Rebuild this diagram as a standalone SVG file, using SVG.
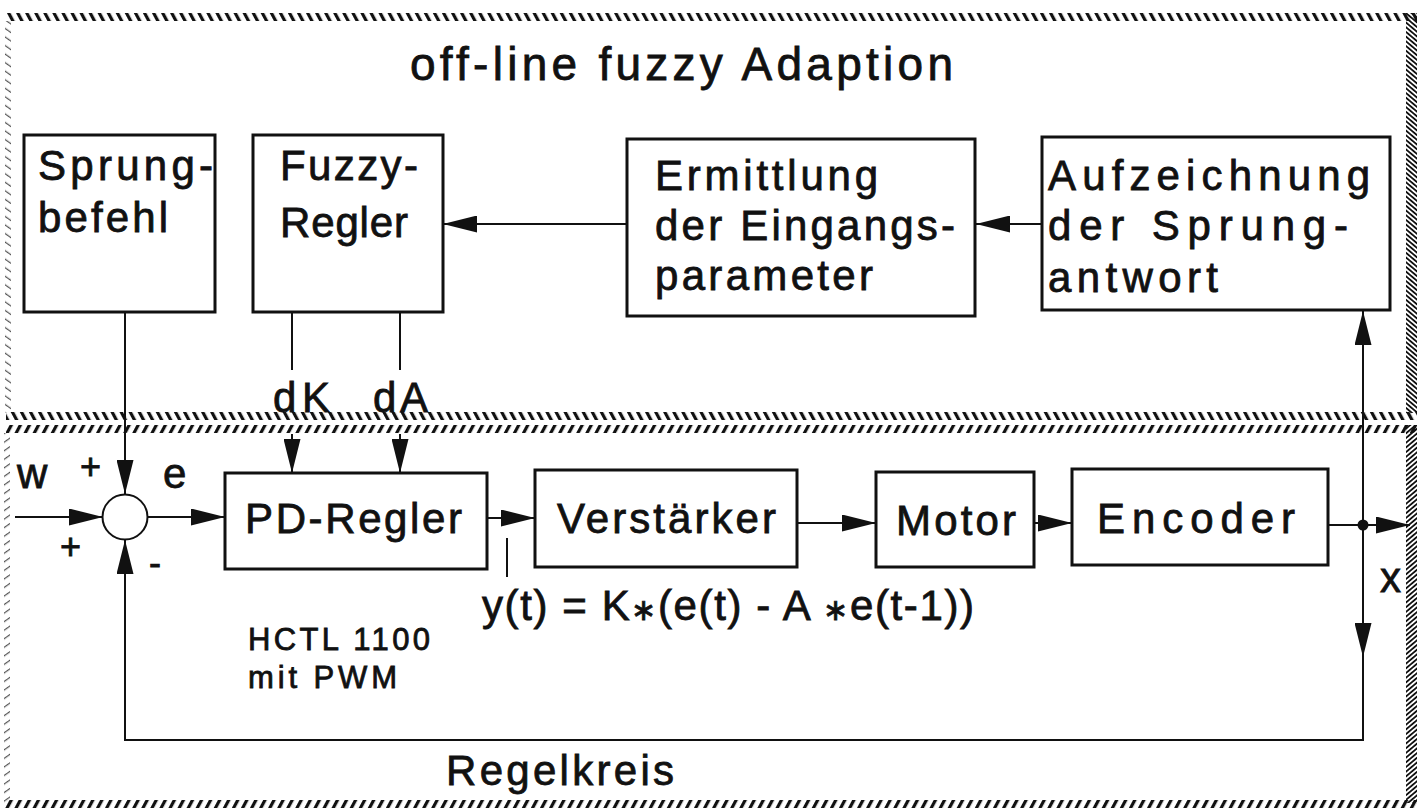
<svg xmlns="http://www.w3.org/2000/svg" width="1421" height="812" viewBox="0 0 1421 812">
<defs>
<style>
.t{font-family:"Liberation Sans",Arial,Helvetica,sans-serif;fill:#111;stroke:#111;stroke-width:0.8px;}
.b{font-size:42px;}
.s{font-size:31px;}
.st{font-size:30px;}
.box{fill:#fff;stroke:#111;stroke-width:3;}
.ln{fill:none;stroke:#111;stroke-width:2;}
.ar{fill:none;stroke:#111;stroke-width:2;marker-end:url(#ah);}
</style>
<marker id="ah" markerUnits="userSpaceOnUse" markerWidth="34" markerHeight="17" refX="34" refY="8.5" orient="auto">
<path d="M0,0 L34,8.5 L0,17 z" fill="#111"/>
</marker>
<pattern id="hB" width="8" height="10" patternUnits="userSpaceOnUse" patternTransform="rotate(-28)"><rect x="0" y="0" width="3.2" height="10" fill="#111"/></pattern>
<pattern id="hF" width="8" height="10" patternUnits="userSpaceOnUse" patternTransform="rotate(28)"><rect x="0" y="0" width="3.2" height="10" fill="#111"/></pattern>
<pattern id="vB" width="3.6" height="10" patternUnits="userSpaceOnUse" patternTransform="rotate(-50)"><rect x="0" y="0" width="1.8" height="10" fill="#111"/></pattern>
<pattern id="vF" width="3.6" height="10" patternUnits="userSpaceOnUse" patternTransform="rotate(50)"><rect x="0" y="0" width="1.8" height="10" fill="#111"/></pattern>
<pattern id="lB" width="7" height="10" patternUnits="userSpaceOnUse" patternTransform="rotate(-55)"><rect x="0" y="0" width="1.2" height="10" fill="#555"/></pattern>
<pattern id="lF" width="7" height="10" patternUnits="userSpaceOnUse" patternTransform="rotate(55)"><rect x="0" y="0" width="1.2" height="10" fill="#555"/></pattern>
</defs>
<rect x="0" y="0" width="1421" height="812" fill="#fff"/>

<g id="frame-top">
<rect x="7" y="13" width="1410" height="8" fill="url(#hB)"/>
<rect x="5" y="21" width="6" height="392" fill="url(#lB)"/>
<rect x="1406" y="13" width="11" height="400" fill="url(#vB)"/>
<rect x="6" y="412" width="1411" height="8" fill="url(#hB)"/>
<text class="t" x="410" y="80" font-size="46" textLength="543" lengthAdjust="spacing">off-line fuzzy Adaption</text>
</g>
<g id="frame-bottom">
<rect x="6" y="425" width="1411" height="8" fill="url(#hF)"/>
<rect x="4" y="433" width="6" height="370" fill="url(#lF)"/>
<rect x="1406" y="425" width="11" height="378" fill="url(#vF)"/>
<rect x="4" y="800" width="1413" height="8" fill="url(#hF)"/>
<text class="t b" x="446" y="785" textLength="228" lengthAdjust="spacing">Regelkreis</text>
</g>

<g id="connectors">
<path class="ar" d="M125,312 V494"/>
<path class="ln" d="M292,312 V370 M400,312 V370"/>
<path class="ar" d="M292,434 V473"/>
<path class="ar" d="M400,434 V473"/>
<path class="ar" d="M627,224 H443"/>
<path class="ar" d="M1042,224 H976"/>
<path class="ar" d="M15,517 H103"/>
<path class="ar" d="M148,517 H225"/>
<path class="ar" d="M487,518 H535"/>
<path class="ar" d="M797,523 H876"/>
<path class="ar" d="M1034,523 H1072"/>
<path class="ar" d="M1328,525 H1410"/>
<path class="ar" d="M1363,525 V311"/>
<path class="ar" d="M1363,525 V657"/>
<path class="ar" d="M1363,657 V740 H125 V540"/>
<path class="ln" d="M507,538 V577"/>
<circle cx="1363" cy="525" r="5.5" fill="#111"/>
</g>

<g id="sum">
<circle cx="125" cy="517" r="22.5" fill="#fff" stroke="#111" stroke-width="2"/>
</g>

<g id="sprungbefehl">
<rect class="box" x="24" y="135" width="191" height="177"/>
<text class="t b" x="38" y="180" textLength="175" lengthAdjust="spacing">Sprung-</text>
<text class="t b" x="38" y="232" textLength="130" lengthAdjust="spacing">befehl</text>
</g>
<g id="fuzzy-regler">
<rect class="box" x="253" y="135" width="190" height="177"/>
<text class="t b" x="280" y="180" textLength="138" lengthAdjust="spacing">Fuzzy-</text>
<text class="t b" x="280" y="237" textLength="128" lengthAdjust="spacing">Regler</text>
</g>
<g id="ermittlung">
<rect class="box" x="627" y="139" width="348" height="177"/>
<text class="t b" x="655" y="190" textLength="223" lengthAdjust="spacing">Ermittlung</text>
<text class="t b" x="655" y="240" textLength="300" lengthAdjust="spacing">der Eingangs-</text>
<text class="t b" x="655" y="290" textLength="218" lengthAdjust="spacing">parameter</text>
</g>
<g id="aufzeichnung">
<rect class="box" x="1042" y="137" width="348" height="173"/>
<text class="t b" x="1048" y="190" textLength="322" lengthAdjust="spacing">Aufzeichnung</text>
<text class="t b" x="1048" y="240" textLength="300" lengthAdjust="spacing">der Sprung-</text>
<text class="t b" x="1048" y="292" textLength="170" lengthAdjust="spacing">antwort</text>
</g>
<g id="pd-regler">
<rect class="box" x="225" y="473" width="262" height="96"/>
<text class="t b" x="245" y="533" textLength="217" lengthAdjust="spacing">PD-Regler</text>
</g>
<g id="verstaerker">
<rect class="box" x="535" y="470" width="262" height="97"/>
<text class="t b" x="557" y="533" textLength="219" lengthAdjust="spacing">Verstärker</text>
</g>
<g id="motor">
<rect class="box" x="876" y="472" width="158" height="95"/>
<text class="t b" x="896" y="535" textLength="120" lengthAdjust="spacing">Motor</text>
</g>
<g id="encoder">
<rect class="box" x="1072" y="469" width="256" height="96"/>
<text class="t b" x="1097" y="533" textLength="198" lengthAdjust="spacing">Encoder</text>
</g>

<g id="labels">
<text class="t b" x="273" y="412" textLength="57" lengthAdjust="spacing">dK</text>
<text class="t b" x="373" y="412" textLength="55" lengthAdjust="spacing">dA</text>
<text class="t b" x="17" y="488">w</text>
<text class="t b" x="163" y="488">e</text>
<text class="t" x="80" y="479" font-size="36">+</text>
<text class="t" x="60" y="559" font-size="36">+</text>
<text class="t" x="149" y="575" font-size="36">-</text>
<text class="t b" x="1380" y="592">x</text>
<text class="t b" x="482" y="620" textLength="492" lengthAdjust="spacing">y(t) = K<tspan class="st">∗</tspan>(e(t) - A <tspan class="st">∗</tspan>e(t-1))</text>
<text class="t s" x="248" y="650" textLength="182" lengthAdjust="spacing">HCTL 1100</text>
<text class="t s" x="248" y="688" textLength="149" lengthAdjust="spacing">mit PWM</text>
</g>
</svg>
